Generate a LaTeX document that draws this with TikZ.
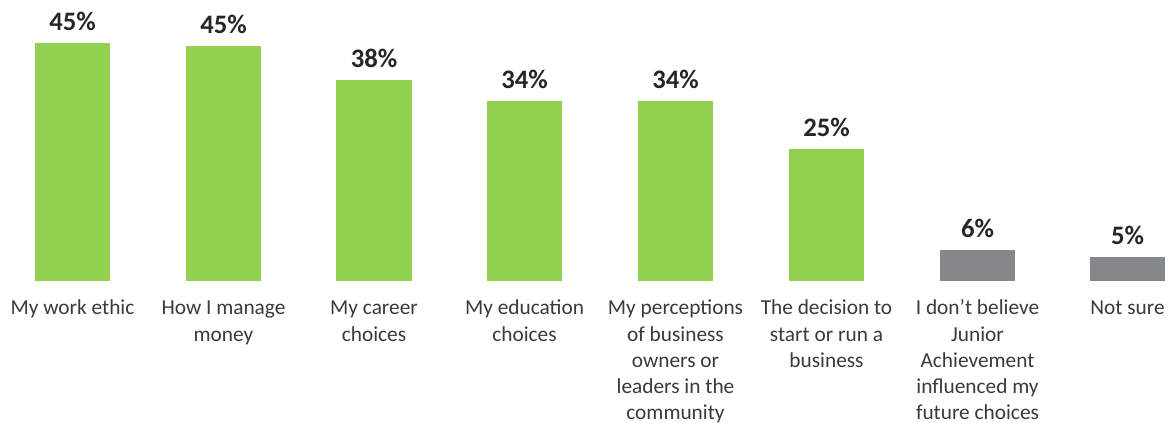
\documentclass[tikz,border=0pt]{standalone}
\usepackage{fontspec}
\setmainfont{Carlito}
\usepackage{tikz}
\usetikzlibrary{positioning}

\definecolor{bargreen}{HTML}{92D050}
\definecolor{bargray}{HTML}{85888B}
\definecolor{labeltext}{HTML}{3A3A3A}
\definecolor{valtext}{HTML}{262626}

\tikzset{
  valnode/.style={anchor=base,inner sep=0pt,text=valtext,font=\fontsize{20pt}{24pt}\selectfont\bfseries},
  catnode/.style={anchor=base,inner sep=0pt,align=center,text=labeltext,font=\fontsize{16pt}{19.7pt}\selectfont}
}

\begin{document}
\begin{tikzpicture}[line cap=round,line join=round,x=0.75pt,y=0.75pt]
      \useasboundingbox (0,0) rectangle (1171,423);
      % bars
      \fill[bargreen] (35,142) rectangle (110,380);
      \fill[bargreen] (186,142) rectangle (261,377);
      \fill[bargreen] (336,142) rectangle (412,343);
      \fill[bargreen] (487,142) rectangle (562,322);
      \fill[bargreen] (638,142) rectangle (713,322);
      \fill[bargreen] (789,142) rectangle (864,274);
      \fill[bargray] (940,142) rectangle (1015,173);
      \fill[bargray] (1090,142) rectangle (1165,166);
      % values
      \node[valnode] (v1) at (72.5,392) {45\%};
      \node[valnode] (v2) at (223.5,389) {45\%};
      \node[valnode] (v3) at (374,355) {38\%};
      \node[valnode] (v4) at (524.5,334) {34\%};
      \node[valnode] (v5) at (675.5,334) {34\%};
      \node[valnode] (v6) at (826.5,286) {25\%};
      \node[valnode] (v7) at (977.5,185) {6\%};
      \node[valnode] (v8) at (1127.5,178) {5\%};
      % categories (anchor = base of last line)
      \node[catnode] (c1) at (72.5,108) {My work ethic};
      \node[catnode] (c2) at (223.5,81.75) {How I manage\\money};
      \node[catnode] (c3) at (374,81.75) {My career\\choices};
      \node[catnode] (c4) at (524.5,81.75) {My education\\choices};
      \node[catnode] (c5) at (675.5,3) {My perceptions\\of business\\owners or\\leaders in the\\community};
      \node[catnode] (c6) at (826.5,55.5) {The decision to\\start or run a\\business};
      \node[catnode] (c7) at (977.5,3) {I don\symbol{39}t believe\\Junior\\Achievement\\influenced my\\future choices};
      \node[catnode] (c8) at (1127.5,108) {Not sure};
    \end{tikzpicture}
\end{document}
